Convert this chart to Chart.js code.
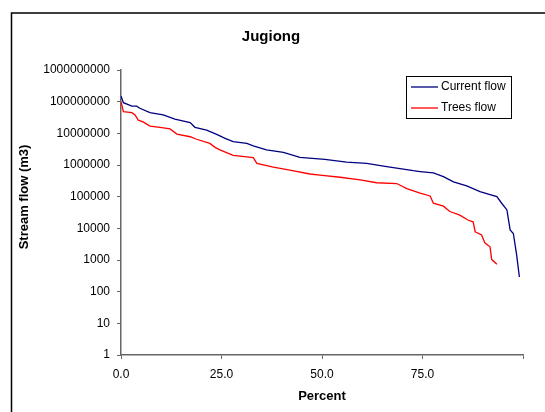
<!DOCTYPE html>
<html>
<head>
<meta charset="utf-8">
<script src="https://cdn.jsdelivr.net/npm/chart.js@4.4.1/dist/chart.umd.min.js"></script>
<style>
html,body{margin:0;padding:0;background:#fff;}
#wrap{width:545px;height:412px;position:relative;}
</style>
</head>
<body>
<div id="wrap"><canvas id="c" width="545" height="412"></canvas></div>
<script>
const chartTitle = "Jugiong";
const xTitle = "Percent";
const yTitle = "Stream flow (m3)";
const seriesNames = ["Current flow", "Trees flow"];
const xTicks = [0, 25, 50, 75, 100];
const yTicks = [1, 10, 100, 1000, 10000, 100000, 1000000, 10000000, 100000000, 1000000000];

const currentPct = [0, 0.6, 2.7, 3.9, 4.7, 7.2, 10.5, 13.4, 17.2, 18.4, 21.3, 23.8, 25.9, 27.9, 31.3, 32.9, 36.2, 40.4, 44.5, 50.7, 56.1, 61.1, 66.1, 72.7, 74.4, 77.7, 80.2, 82.7, 86.0, 89.3, 91.8, 93.5, 94.7, 96.0, 96.8, 97.6, 98.4, 99.1];
const currentFlow = [1.5e8, 9.3e7, 7.2e7, 7.2e7, 6.2e7, 4.5e7, 3.8e7, 2.8e7, 2.2e7, 1.55e7, 1.26e7, 9.3e6, 6.9e6, 5.5e6, 4.8e6, 4.0e6, 3.0e6, 2.5e6, 1.75e6, 1.5e6, 1.23e6, 1.12e6, 8.9e5, 6.6e5, 6.2e5, 5.6e5, 4.3e5, 2.95e5, 2.2e5, 1.45e5, 1.17e5, 1.0e5, 6.2e4, 3.8e4, 8.9e3, 6.9e3, 1.5e3, 290];

const treesPct = [0, 0.6, 2.7, 3.5, 4.3, 5.5, 7.2, 9.7, 12.2, 13.9, 17.2, 18.8, 22.1, 23.4, 24.6, 27.9, 32.9, 33.8, 37.9, 42.0, 47.0, 49.5, 54.5, 59.5, 63.6, 68.6, 71.1, 74.4, 76.9, 77.7, 80.2, 81.8, 84.3, 86.4, 87.6, 88.1, 89.7, 90.5, 91.8, 92.2, 93.5];
const treesFlow = [1.0e8, 4.8e7, 4.5e7, 3.8e7, 2.6e7, 2.3e7, 1.7e7, 1.55e7, 1.38e7, 9.5e6, 7.8e6, 6.5e6, 4.8e6, 3.6e6, 3.0e6, 2.0e6, 1.7e6, 1.12e6, 8.5e5, 6.9e5, 5.2e5, 4.8e5, 4.1e5, 3.4e5, 2.75e5, 2.6e5, 1.8e5, 1.29e5, 1.05e5, 6.2e4, 5.0e4, 3.4e4, 2.6e4, 1.8e4, 1.6e4, 7.8e3, 6.2e3, 3.5e3, 2.6e3, 1.05e3, 730];

const colors = ["#000080", "#ff0000"];
const FONT = "'Liberation Sans', Arial, sans-serif";

function pts(xs, ys){ return xs.map((x,i)=>({x:x, y:ys[i]})); }

const framePlugin = {
  id: 'frame',
  afterLayout(chart){
    if (chart.titleBlock) { chart.titleBlock.left = 0; chart.titleBlock.right = 542; }
  },
  beforeDraw(chart){
    const ctx = chart.ctx;
    ctx.save();
    ctx.fillStyle = '#fff';
    ctx.fillRect(0,0,chart.width,chart.height);
    ctx.strokeStyle = '#000';
    ctx.lineWidth = 1.5;
    ctx.beginPath();
    ctx.moveTo(11.5, chart.height + 5);
    ctx.lineTo(11.5, 13);
    ctx.lineTo(chart.width + 5, 13);
    ctx.stroke();
    ctx.restore();
  }
};

const yTitlePlugin = {
  id: 'yTitle',
  afterDraw(chart){
    const ctx = chart.ctx;
    ctx.save();
    ctx.translate(24, 197);
    ctx.rotate(-Math.PI/2);
    ctx.font = "bold 13px " + FONT;
    ctx.fillStyle = '#000';
    ctx.textAlign = 'center';
    ctx.textBaseline = 'middle';
    ctx.fillText(yTitle, 0, 0);
    ctx.restore();
  }
};

const legendPlugin = {
  id: 'boxLegend',
  afterDraw(chart){
    const ctx = chart.ctx;
    ctx.save();
    const x0 = 406.5, y0 = 76.5, w = 105, h = 42;
    ctx.fillStyle = '#fff';
    ctx.fillRect(x0, y0, w, h);
    ctx.strokeStyle = '#000';
    ctx.lineWidth = 1;
    ctx.strokeRect(x0, y0, w, h);
    ctx.font = "12px " + FONT;
    ctx.textBaseline = 'middle';
    ctx.fillStyle = '#000';
    const rows = [87, 108];
    seriesNames.forEach((name, i) => {
      ctx.strokeStyle = colors[i];
      ctx.lineWidth = 1.3;
      ctx.beginPath();
      ctx.moveTo(411, rows[i]);
      ctx.lineTo(438, rows[i]);
      ctx.stroke();
      ctx.fillText(name, 441, rows[i]);
    });
    ctx.restore();
  }
};

new Chart(document.getElementById('c'), {
  type: 'line',
  data: {
    datasets: [
      { label: seriesNames[0], data: pts(currentPct, currentFlow), borderColor: colors[0], backgroundColor: colors[0], borderWidth: 1.3, pointRadius: 0, tension: 0, fill: false },
      { label: seriesNames[1], data: pts(treesPct, treesFlow), borderColor: colors[1], backgroundColor: colors[1], borderWidth: 1.3, pointRadius: 0, tension: 0, fill: false }
    ]
  },
  options: {
    responsive: false,
    animation: false,
    devicePixelRatio: 1,
    layout: { padding: { left: 0, right: 22, top: 0, bottom: 0 } },
    plugins: {
      legend: { display: false },
      tooltip: { enabled: false },
      title: {
        display: true, text: chartTitle, color: '#000',
        font: { family: FONT, size: 15, weight: 'bold', lineHeight: 1.2 },
        padding: { top: 28, bottom: 24 }
      }
    },
    scales: {
      x: {
        type: 'linear', min: 0, max: 100,
        afterBuildTicks(scale){ scale.ticks = xTicks.map(v => ({ value: v })); },
        afterFit(scale){ scale.height = 57; },
        grid: { drawOnChartArea: false, drawTicks: true, tickLength: 4, color: '#666' },
        border: { color: '#666', width: 1.5 },
        ticks: {
          color: '#000', padding: 8, maxRotation: 0, autoSkip: false,
          font: { family: FONT, size: 12 },
          callback: v => v === 100 ? '' : Number(v).toFixed(1)
        },
        title: { display: true, text: xTitle, color: '#000', padding: 8, font: { family: FONT, size: 13, weight: 'bold', lineHeight: 1.2 } }
      },
      y: {
        type: 'logarithmic', min: 1, max: 1e9,
        afterBuildTicks(scale){ scale.ticks = yTicks.map(v => ({ value: v })); },
        afterFit(scale){ scale.width = 121; },
        grid: { drawOnChartArea: false, drawTicks: true, tickLength: 4, color: '#666' },
        border: { color: '#666', width: 1.5 },
        ticks: {
          color: '#000', padding: 7, autoSkip: false,
          font: { family: FONT, size: 12 },
          callback: v => String(Math.round(v))
        },
        title: { display: false, text: yTitle }
      }
    }
  },
  plugins: [framePlugin, yTitlePlugin, legendPlugin]
});
</script>
</body>
</html>
